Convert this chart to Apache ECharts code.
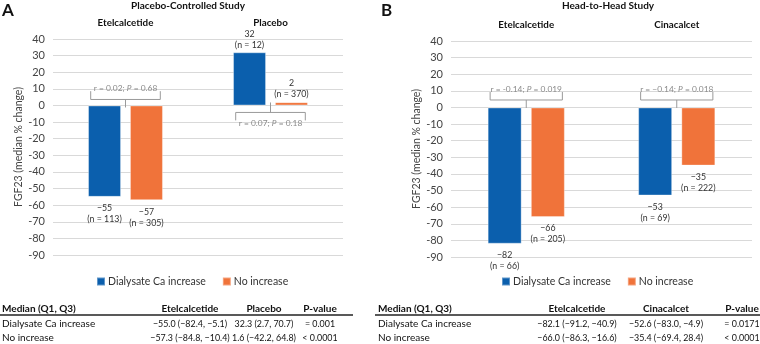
<!DOCTYPE html>
<html>
<head>
<meta charset="utf-8">
<script src="https://cdn.jsdelivr.net/npm/echarts@6/dist/echarts.min.js"></script>
<style>
  html, body { margin: 0; padding: 0; background: #fff; }
  #chart { width: 760px; height: 344px; }
</style>
</head>
<body>
<div id="chart"></div>
<script>
// 数据
const yTicksMin = -90
const yTicksMax = 40
const yTickStep = 10

const categoriesA = ['Etelcalcetide', 'Placebo']
const categoriesB = ['Etelcalcetide', 'Cinacalcet']
const seriesNames = ['Dialysate Ca increase', 'No increase']

const increaseA = [-55, 32]
const noIncreaseA = [-57, 2]
const nIncreaseA = [113, 12]
const nNoIncreaseA = [305, 370]

const increaseB = [-82, -53]
const noIncreaseB = [-66, -35]
const nIncreaseB = [66, 69]
const nNoIncreaseB = [205, 222]

const bracketRA = ['0.02', '0.07']
const bracketPA = ['0.68', '0.18']
const bracketRB = ['-0.14', '\u22120.14']
const bracketPB = ['0.019', '0.018']

const tableHeadA = ['Median (Q1, Q3)', 'Etelcalcetide', 'Placebo', 'P-value']
const tableRowsA = [
  ['Dialysate Ca increase', '\u221255.0 (\u221282.4, \u22125.1)', '32.3 (2.7, 70.7)', '= 0.001'],
  ['No increase', '\u221257.3 (\u221284.8, \u221210.4)', '1.6 (\u221242.2, 64.8)', '< 0.0001']
]
const tableHeadB = ['Median (Q1, Q3)', 'Etelcalcetide', 'Cinacalcet', 'P-value']
const tableRowsB = [
  ['Dialysate Ca increase', '\u221282.1 (\u221291.2, \u221240.9)', '\u221252.6 (\u221283.0, \u22124.9)', '= 0.0171'],
  ['No increase', '\u221266.0 (\u221286.3, \u221216.6)', '\u221235.4 (\u221269.4, 28.4)', '< 0.0001']
]

const FONT = "Lato, 'Liberation Sans', sans-serif"
const BLUE = '#0b5fad'
const ORANGE = '#f0733a'

const chart = echarts.init(document.getElementById('chart'), null, { renderer: 'canvas' })

const fmtVal = v => (v < 0 ? '\u2212' + Math.abs(v) : String(v))

// 柱子数据，带标签位置
const barData = (vals, ns) => vals.map((v, i) => ({
  value: v,
  label: {
    position: v < 0 ? 'bottom' : 'top',
    distance: v < 0 ? 6 : 2,
    formatter: fmtVal(v) + '\n(n = ' + ns[i] + ')'
  }
}))

const barSeries = (name, color, data, idx, width) => ({
  name: name,
  type: 'bar',
  xAxisIndex: idx,
  yAxisIndex: idx,
  barWidth: width,
  barGap: '27%',
  data: data,
  itemStyle: { color: color, borderColor: 'rgba(255,255,255,0.35)', borderWidth: 1 },
  label: {
    show: true,
    color: '#333',
    fontFamily: FONT,
    fontSize: 8.8,
    lineHeight: 11
  },
  silent: true
})

// 括号 [类别, 横线, 端点, 竖线, 文字]
const bracketSeries = (idx, rows, rs, ps) => ({
  type: 'custom',
  xAxisIndex: idx,
  yAxisIndex: idx,
  silent: true,
  data: rows,
  encode: { x: 0, y: 1 },
  renderItem: function (params, api) {
    const cat = api.value(0)
    const band = api.size([1, 0])[0]
    const half = band * 0.24
    const cx = api.coord([cat, 0])[0]
    const yh = api.coord([cat, api.value(1)])[1]
    const ye = api.coord([cat, api.value(2)])[1]
    const ys = api.coord([cat, api.value(3)])[1]
    const yt = api.coord([cat, api.value(4)])[1]
    const ls = { stroke: '#9a9a9a', lineWidth: 1, fill: null }
    const i = params.dataIndex
    return {
      type: 'group',
      children: [
        { type: 'polyline', shape: { points: [[cx - half, ye], [cx - half, yh], [cx + half, yh], [cx + half, ye]] }, style: ls },
        { type: 'line', shape: { x1: cx, y1: yh, x2: cx, y2: ys }, style: ls },
        {
          type: 'text',
          style: {
            x: cx, y: yt,
            text: 'r = ' + rs[i] + '; {i|P} = ' + ps[i],
            align: 'center', verticalAlign: 'middle',
            fill: '#8a8a8a', fontFamily: FONT, fontSize: 8.4,
            rich: { i: { fontStyle: 'italic', fill: '#8a8a8a', fontFamily: FONT, fontSize: 8.4 } }
          }
        }
      ]
    }
  }
})

const xAxis = (idx, data) => ({
  type: 'category',
  gridIndex: idx,
  data: data,
  position: 'top',
  axisLine: { show: false },
  axisTick: { show: false },
  axisLabel: { color: '#111', fontFamily: FONT, fontWeight: 'bold', fontSize: 9.8, margin: 11 }
})

const yAxis = idx => ({
  type: 'value',
  gridIndex: idx,
  min: yTicksMin,
  max: yTicksMax,
  interval: yTickStep,
  name: 'FGF23 (median % change)',
  nameLocation: 'middle',
  nameGap: 24,
  nameTextStyle: { color: '#444', fontFamily: FONT, fontSize: 10.5 },
  axisLine: { show: false },
  axisTick: { show: false },
  axisLabel: { color: '#444', fontFamily: FONT, fontSize: 11, margin: 8 },
  splitLine: { lineStyle: { color: '#d9d9d9', width: 1 } }
})

const legend = left => ({
  left: left,
  top: 271,
  icon: 'rect',
  itemWidth: 8,
  itemHeight: 8,
  itemGap: 16,
  selectedMode: false,
  data: seriesNames,
  textStyle: { color: '#333', fontFamily: FONT, fontSize: 10.5, padding: [0, 0, 0, -2] }
})

// 表格
const tableGraphics = (head, rows, xs, x0, x1) => {
  const out = []
  const ys = [309, 324, 338]
  const put = (txt, j, y, bold) => out.push({
    type: 'text',
    x: xs[j], y: y,
    style: {
      text: txt,
      align: j === 0 ? 'left' : 'center',
      verticalAlign: 'middle',
      fill: '#111',
      fontFamily: FONT,
      fontSize: bold || j === 0 ? 10 : 8.9,
      fontWeight: bold ? 'bold' : 'normal'
    }
  })
  head.forEach((h, j) => put(h, j, ys[0], true))
  rows.forEach((r, k) => r.forEach((c, j) => put(c, j, ys[k + 1], false)))
  out.push({ type: 'line', shape: { x1: x0, y1: 315, x2: x1, y2: 315 }, style: { stroke: '#222', lineWidth: 1.5 } })
  return out
}

const titleText = (txt, x, y, size, align) => ({
  type: 'text', x: x, y: y,
  style: { text: txt, align: align, verticalAlign: 'middle', fill: '#111', fontFamily: FONT, fontWeight: 'bold', fontSize: size }
})

chart.setOption({
  backgroundColor: '#fff',
  animation: false,
  grid: [
    { left: 53, right: 417, top: 39, bottom: 89 },
    { left: 451, right: 8, top: 41, bottom: 87 }
  ],
  xAxis: [xAxis(0, categoriesA), xAxis(1, categoriesB)],
  yAxis: [yAxis(0), yAxis(1)],
  legend: [legend(91), legend(496)],
  series: [
    barSeries(seriesNames[0], BLUE, barData(increaseA, nIncreaseA), 0, 33),
    barSeries(seriesNames[1], ORANGE, barData(noIncreaseA, nNoIncreaseA), 0, 33),
    bracketSeries(0, [[0, 3.6, 8.6, -1.2, 10.2], [1, -4.2, -9, 1.8, -10.6]], bracketRA, bracketPA),
    barSeries(seriesNames[0], BLUE, barData(increaseB, nIncreaseB), 1, 34),
    barSeries(seriesNames[1], ORANGE, barData(noIncreaseB, nNoIncreaseB), 1, 34),
    bracketSeries(1, [[0, 4.5, 9.3, -0.3, 11], [1, 4.5, 9.3, -0.3, 11]], bracketRB, bracketPB)
  ],
  graphic: [
    titleText('A', 2, 11, 17, 'left'),
    titleText('Placebo-Controlled Study', 188, 6, 10, 'center'),
    titleText('B', 381, 11, 17, 'left'),
    titleText('Head-to-Head Study', 608, 6, 10, 'center')
  ].concat(
    tableGraphics(tableHeadA, tableRowsA, [2, 190, 264, 320], 0, 353),
    tableGraphics(tableHeadB, tableRowsB, [378, 577, 666, 742], 375, 760)
  )
})
</script>
</body>
</html>
